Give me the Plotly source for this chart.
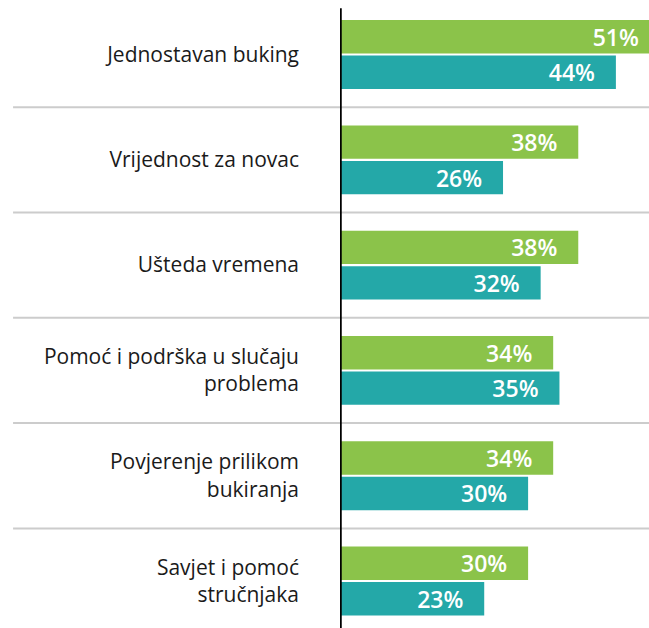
import plotly.graph_objects as go

categories = [
    "Jednostavan buking",
    "Vrijednost za novac",
    "Ušteda vremena",
    "Pomoć i podrška u slučaju<br>problema",
    "Povjerenje prilikom<br>bukiranja",
    "Savjet i pomoć<br>stručnjaka",
]
green_values = [51, 38, 38, 34, 34, 30]
teal_values = [44, 26, 32, 35, 30, 23]

GREEN = "#8BC34A"
TEAL = "#24A8A8"
PAD = "\u00a0\u00a0\u00a0"
VALUE_FONT = dict(color="white", size=23, family="Open Sans", weight=600)

fig = go.Figure()
fig.add_trace(go.Bar(
    y=categories, x=green_values, orientation="h", marker=dict(color=GREEN, line=dict(width=0)),
    text=[f"{v}%{PAD}" for v in green_values], textposition="inside", insidetextanchor="end",
    textfont=VALUE_FONT, constraintext="none", showlegend=False, hoverinfo="skip",
))
fig.add_trace(go.Bar(
    y=categories, x=teal_values, orientation="h", marker=dict(color=TEAL, line=dict(width=0)),
    text=[f"{v}%{PAD}" for v in teal_values], textposition="inside", insidetextanchor="end",
    textfont=VALUE_FONT, constraintext="none", showlegend=False, hoverinfo="skip",
))

shapes = []
for i in range(len(categories) - 1):
    shapes.append(dict(type="line", xref="paper", yref="y", x0=-1.058, x1=1.0,
                       y0=i + 0.5, y1=i + 0.5, line=dict(color="#cccccc", width=2), layer="below"))
shapes.append(dict(type="line", xref="x", yref="paper", x0=0, x1=0, y0=0, y1=0.987,
                   line=dict(color="black", width=3.5), layer="above"))

fig.update_layout(
    width=649, height=628,
    margin=dict(l=340, r=0, t=0, b=0),
    paper_bgcolor="white", plot_bgcolor="white",
    barmode="group", bargap=0.326, bargroupgap=0.06,
    shapes=shapes,
    xaxis=dict(range=[0, 49.28], showgrid=False, zeroline=False, showticklabels=False, showline=False),
    yaxis=dict(type="category", categoryorder="array", categoryarray=categories,
               range=[5.446, -0.518], showgrid=False, zeroline=False, showline=False,
               ticks="", ticklabelstandoff=40,
               tickfont=dict(family="Open Sans", size=21, color="#1a1a1a")),
    font=dict(family="Open Sans"),
)

fig.write_html(
    "out.html",
    config={"displayModeBar": False},
    post_script="document.body.style.margin='0';document.body.style.overflow='hidden';",
)
